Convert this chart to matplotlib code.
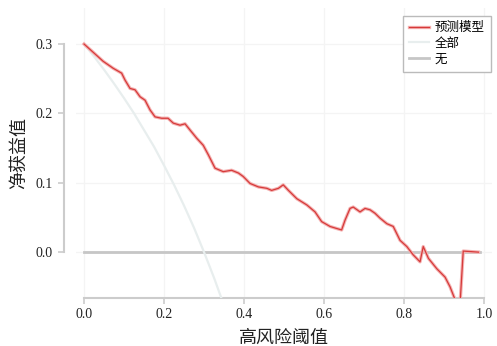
import matplotlib
matplotlib.use('Agg')
import matplotlib.pyplot as plt
import matplotlib.patheffects as pe
import numpy as np

plt.rcParams['font.family'] = ['Liberation Serif', 'Noto Sans CJK SC']

# decision curve: net benefit of the model across thresholds
model_t = [0.0, 0.048, 0.073, 0.094, 0.1025, 0.115, 0.1275, 0.14, 0.1525, 0.165,
           0.1775, 0.194, 0.21, 0.223, 0.24, 0.2525, 0.265, 0.282, 0.298, 0.311,
           0.3275, 0.348, 0.369, 0.386, 0.398, 0.415, 0.436, 0.457, 0.469, 0.486,
           0.498, 0.511, 0.532, 0.557, 0.5775, 0.594, 0.615, 0.632, 0.644, 0.6525,
           0.665, 0.673, 0.69, 0.7025, 0.715, 0.7275, 0.74, 0.757, 0.773, 0.79,
           0.807, 0.823, 0.84, 0.848, 0.861, 0.882, 0.9025, 0.915, 0.932, 0.94,
           0.948, 0.986]
model_nb = [0.300, 0.275, 0.265, 0.258, 0.248, 0.236, 0.234, 0.224, 0.219, 0.205,
            0.195, 0.193, 0.193, 0.186, 0.183, 0.185, 0.176, 0.164, 0.154, 0.140,
            0.121, 0.116, 0.118, 0.114, 0.109, 0.099, 0.094, 0.092, 0.089, 0.092,
            0.097, 0.089, 0.077, 0.068, 0.058, 0.044, 0.037, 0.034, 0.032, 0.046,
            0.063, 0.065, 0.058, 0.063, 0.061, 0.056, 0.049, 0.041, 0.037, 0.017,
            0.008, -0.004, -0.014, 0.008, -0.009, -0.024, -0.036, -0.050, -0.075, -0.075,
            0.0015, 0.0]

all_t = [0.0, 0.025, 0.05, 0.075, 0.1, 0.125, 0.15, 0.175, 0.2, 0.225, 0.25,
         0.275, 0.3, 0.325, 0.35]
all_nb = [0.300, 0.282, 0.263, 0.243, 0.222, 0.200, 0.176, 0.152, 0.125, 0.097,
          0.067, 0.035, 0.000, -0.037, -0.077]

none_t = [0.0, 0.99]
none_nb = [0.0, 0.0]

fig = plt.figure(figsize=(4.97, 3.46), dpi=100)
ax = fig.add_axes([0.153, 0.139, 0.837, 0.838])

ax.plot(model_t, model_nb, color='#d63a3a', linewidth=0.9, label='预测模型', zorder=4,
        path_effects=[pe.Stroke(linewidth=2.4, foreground='#f4b2b2'), pe.Normal()])
ax.plot(all_t, all_nb, color='#e8eeee', linewidth=1.6, label='全部', zorder=3)
ax.plot(none_t, none_nb, color='#c6c6c6', linewidth=2.0, label='无', zorder=2)

ax.set_xlim(-0.02, 1.02)
ax.set_ylim(-0.066, 0.352)
ax.set_xticks([0.0, 0.2, 0.4, 0.6, 0.8, 1.0])
ax.set_yticks([0.0, 0.1, 0.2, 0.3])
ax.grid(True, color='#f4f4f4', linewidth=0.9)
ax.set_axisbelow(True)

for s in ['top', 'right']:
    ax.spines[s].set_visible(False)
ax.spines['left'].set_position(('outward', 9))
ax.spines['left'].set_bounds(0.0, 0.3)
ax.spines['bottom'].set_bounds(0.0, 1.0)
for s in ['left', 'bottom']:
    ax.spines[s].set_color('#cccccc')
    ax.spines[s].set_linewidth(1.5)
ax.tick_params(colors='#cccccc', labelcolor='#222222', labelsize=10, length=4, width=1.2)

ax.set_xlabel('高风险阈值', fontsize=13, color='#222222', labelpad=6)
ax.set_ylabel('净获益值', fontsize=13, color='#222222', labelpad=6)

leg = ax.legend(loc='upper right', bbox_to_anchor=(1.012, 0.995), fontsize=9,
                fancybox=False, framealpha=1, edgecolor='#bbbbbb',
                handlelength=1.6, handletextpad=0.45, borderpad=0.5, labelspacing=0.3)
leg.get_frame().set_linewidth(1.0)

fig.savefig('out.png', dpi=100)
